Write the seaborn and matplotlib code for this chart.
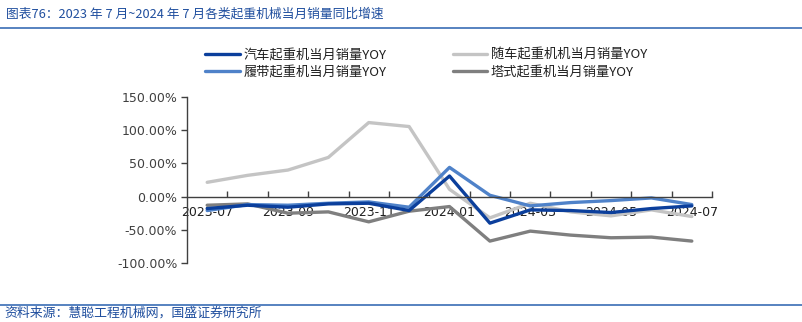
import matplotlib
matplotlib.use("Agg")
import matplotlib.pyplot as plt
import seaborn as sns
import pandas as pd
from matplotlib.lines import Line2D
from matplotlib.ticker import FuncFormatter

months = ["2023-07", "2023-08", "2023-09", "2023-10", "2023-11", "2023-12",
          "2024-01", "2024-02", "2024-03", "2024-04", "2024-05", "2024-06", "2024-07"]
truck = [-18, -13, -16, -11, -10, -21, 31, -40, -20, -21, -24, -18, -14]
crawler = [-21, -12, -13, -10, -8, -16, 44, 2, -14, -9, -6, -2, -12]
loader = [21.5, 32, 40, 59, 111.5, 105.5, 11, -32, -10, -23, -29, -20, -30]
tower = [-13, -11, -25, -23, -38, -22, -15, -67, -52, -58, -62, -61, -67]

names = ["汽车起重机当月销量YOY", "履带起重机当月销量YOY", "随车起重机机当月销量YOY", "塔式起重机当月销量YOY"]
series = [truck, crawler, loader, tower]
colors = ["#0B3F9C", "#4F82C9", "#C4C4C4", "#7F7F7F"]

rows = []
for n, vals in zip(names, series):
    for i, v in enumerate(vals):
        rows.append({"idx": i, "month": months[i], "value": v, "series": n})
df = pd.DataFrame(rows)

sns.set_theme(style="white")
plt.rcParams['font.family'] = ['DejaVu Sans', 'Noto Sans CJK SC']

fig = plt.figure(figsize=(8.02, 3.22), dpi=100)
ax = fig.add_axes([187/802, 1-263/322, (712-187)/802, (263-97)/322])

draw_order = [names[2], names[3], names[1], names[0]]
pal = dict(zip(names, colors))
for n in draw_order:
    sub = df[df["series"] == n]
    sns.lineplot(data=sub, x="idx", y="value", color=pal[n], linewidth=2.4, ax=ax, legend=False)

ax.set_xlim(-0.5, 12.5)
ax.set_ylim(-100, 150)
ax.set_yticks([-100, -50, 0, 50, 100, 150])
ax.yaxis.set_major_formatter(FuncFormatter(lambda v, p: f"{v:.2f}%"))
ax.set_xlabel("")
ax.set_ylabel("")

for s in ["top", "right"]:
    ax.spines[s].set_visible(False)
ax.spines["left"].set_color("#404040")
ax.spines["left"].set_linewidth(1.0)

ax.tick_params(axis="y", which="major", direction="out", length=4, width=1, color="#404040",
               labelsize=9, labelcolor="#404040", left=True, pad=3)
ax.set_xticks([i + 0.5 for i in range(13)], minor=True)
ax.set_xticks(list(range(0, 13, 2)))
ax.set_xticklabels([months[i] for i in range(0, 13, 2)])
ax.xaxis.set_ticks_position("bottom")
ax.spines["bottom"].set_position(("data", 0))
ax.spines["bottom"].set_visible(True)
ax.spines["bottom"].set_color("#404040")
ax.spines["bottom"].set_linewidth(1.0)
ax.tick_params(axis="x", which="major", length=0, labelsize=9, labelcolor="#202020", bottom=True, pad=7)
ax.tick_params(axis="x", which="minor", direction="in", length=4, width=1, color="#404040", bottom=True)

cjk = ['Noto Sans CJK SC', 'DejaVu Sans']
fig.text(6/802, 1-14/322, "图表76：2023 年 7 月~2024 年 7 月各类起重机械当月销量同比增速",
         fontsize=9.2, color="#1F4E9E", family=cjk, va="center", ha="left", style="italic")
fig.add_artist(Line2D([0, 1], [1-28/322, 1-28/322], color="#3A6DB5", linewidth=1.2))
fig.add_artist(Line2D([0, 1], [1-305/322, 1-305/322], color="#3A6DB5", linewidth=1.2))
fig.text(4/802, 1-313/322, "资料来源：慧聪工程机械网，国盛证券研究所",
         fontsize=9.3, color="#1F4E9E", family=cjk, va="center", ha="left", style="italic")

handles = [Line2D([], [], color=c, linewidth=2.4) for c in colors]
leg = fig.legend(handles, names, ncol=2, loc="upper left", bbox_to_anchor=(200/802, 1-43/322),
                 frameon=False, prop={"family": cjk, "size": 9.5}, handlelength=2.6,
                 handletextpad=0.3, columnspacing=5.0, labelspacing=0.35, borderaxespad=0)
for t in leg.get_texts():
    t.set_color("#202020")

fig.savefig("out.png", dpi=100)
